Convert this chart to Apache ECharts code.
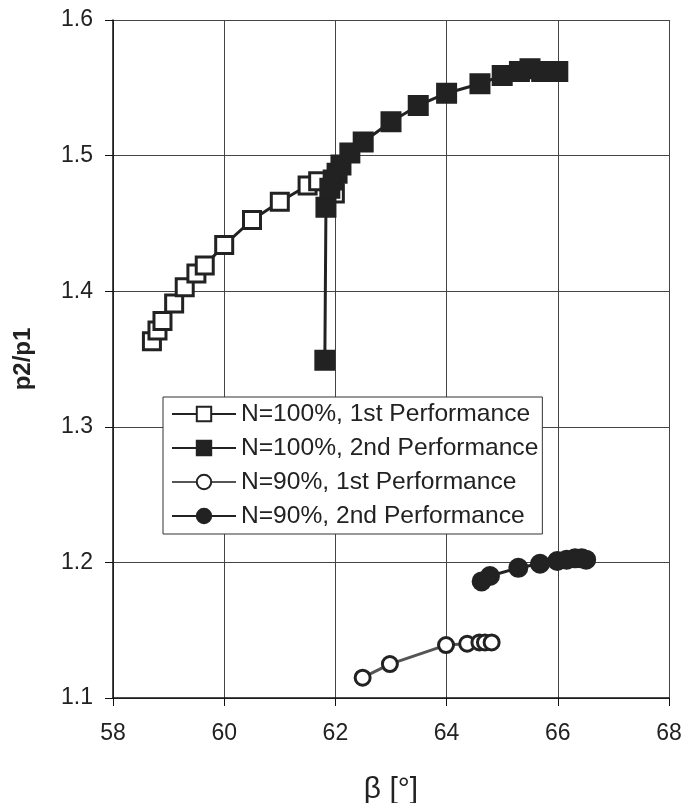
<!DOCTYPE html>
<html>
<head>
<meta charset="utf-8">
<script src="https://cdn.jsdelivr.net/npm/echarts@6/dist/echarts.min.js"></script>
<style>
html,body{margin:0;padding:0;background:#fff;}
#chart{width:684px;height:803px;}
</style>
</head>
<body>
<div id="chart"></div>
<script>
const seriesNames = ["N=100%, 1st Performance", "N=100%, 2nd Performance", "N=90%, 1st Performance", "N=90%, 2nd Performance"];
const xTicks = [58, 60, 62, 64, 66, 68];
const yTicks = [1.1, 1.2, 1.3, 1.4, 1.5, 1.6];

const n100First = [[58.70,1.363],[58.80,1.371],[58.89,1.378],[59.10,1.391],[59.29,1.403],[59.50,1.413],[59.65,1.419],[60.00,1.434],[60.50,1.4525],[61.00,1.466],[61.50,1.478],[61.69,1.481],[61.99,1.472]];
const n100Second = [[61.81,1.349],[61.83,1.462],[61.90,1.476],[61.96,1.482],[62.03,1.487],[62.10,1.493],[62.26,1.502],[62.50,1.510],[63.00,1.525],[63.49,1.537],[64.00,1.546],[64.60,1.553],[65.00,1.559],[65.31,1.562],[65.50,1.564],[65.71,1.562],[65.85,1.562],[66.00,1.562]];
const n90First = [[62.49,1.115],[62.98,1.125],[63.99,1.139],[64.37,1.140],[64.59,1.141],[64.69,1.141],[64.81,1.141]];
const n90Second = [[64.63,1.186],[64.78,1.190],[65.29,1.196],[65.68,1.199],[65.99,1.201],[66.16,1.202],[66.31,1.203],[66.43,1.203],[66.51,1.202]];

const FONT = "'Liberation Sans', Arial, sans-serif";
const chart = echarts.init(document.getElementById('chart'), null, {renderer: 'canvas'});

function mkSeries(name, data, symbol, filled, lineColor, size) {
  return {
    name: name,
    type: 'line',
    data: data,
    symbol: symbol,
    symbolSize: size,
    showAllSymbol: true,
    lineStyle: {color: lineColor, width: 3},
    itemStyle: {color: filled ? '#222' : '#fff', borderColor: '#222', borderWidth: 3},
    emphasis: {disabled: true},
    animation: false
  };
}

chart.setOption({
  animation: false,
  backgroundColor: '#fff',
  grid: {left: 113, right: 15, top: 20, bottom: 105, containLabel: false, outerBoundsMode: 'none'},
  legend: {
    orient: 'vertical',
    left: 163,
    top: 397,
    width: 377,
    padding: [4, 4, 5, 8],
    backgroundColor: '#fff',
    borderColor: '#333',
    borderWidth: 1,
    borderRadius: 0,
    itemWidth: 64,
    itemHeight: 18,
    itemGap: 8,
    textStyle: {fontFamily: FONT, fontSize: 24.6, color: '#222', lineHeight: 26},
    data: seriesNames
  },
  xAxis: {
    type: 'value',
    min: xTicks[0],
    max: xTicks[xTicks.length - 1],
    interval: 2,
    name: 'β [°]',
    nameLocation: 'middle',
    nameGap: 77,
    nameTextStyle: {fontFamily: FONT, fontSize: 30, color: '#222'},
    axisLine: {show: true, onZero: false, lineStyle: {color: '#111', width: 1.5}},
    axisTick: {show: true, inside: false, length: 8, lineStyle: {color: '#111', width: 1}},
    axisLabel: {fontFamily: FONT, fontSize: 23, color: '#222', margin: 24},
    splitLine: {show: true, lineStyle: {color: '#444', width: 1}}
  },
  yAxis: {
    type: 'value',
    min: yTicks[0],
    max: yTicks[yTicks.length - 1],
    interval: 0.1,
    name: 'p2/p1',
    nameLocation: 'middle',
    nameRotate: 90,
    nameGap: 78,
    nameTextStyle: {fontFamily: FONT, fontSize: 24, fontWeight: 'bold', color: '#222'},
    axisLine: {show: true, onZero: false, lineStyle: {color: '#111', width: 1.5}},
    axisTick: {show: true, inside: false, length: 8, lineStyle: {color: '#111', width: 1}},
    axisLabel: {fontFamily: FONT, fontSize: 23, color: '#222', margin: 20, formatter: v => v.toFixed(1)},
    splitLine: {show: true, lineStyle: {color: '#444', width: 1}}
  },
  series: [
    mkSeries(seriesNames[0], n100First, 'rect', false, '#222', 17),
    mkSeries(seriesNames[1], n100Second, 'rect', true, '#222', 18),
    mkSeries(seriesNames[2], n90First, 'circle', false, '#555', 15),
    mkSeries(seriesNames[3], n90Second, 'circle', true, '#222', 17)
  ]
});
</script>
</body>
</html>
